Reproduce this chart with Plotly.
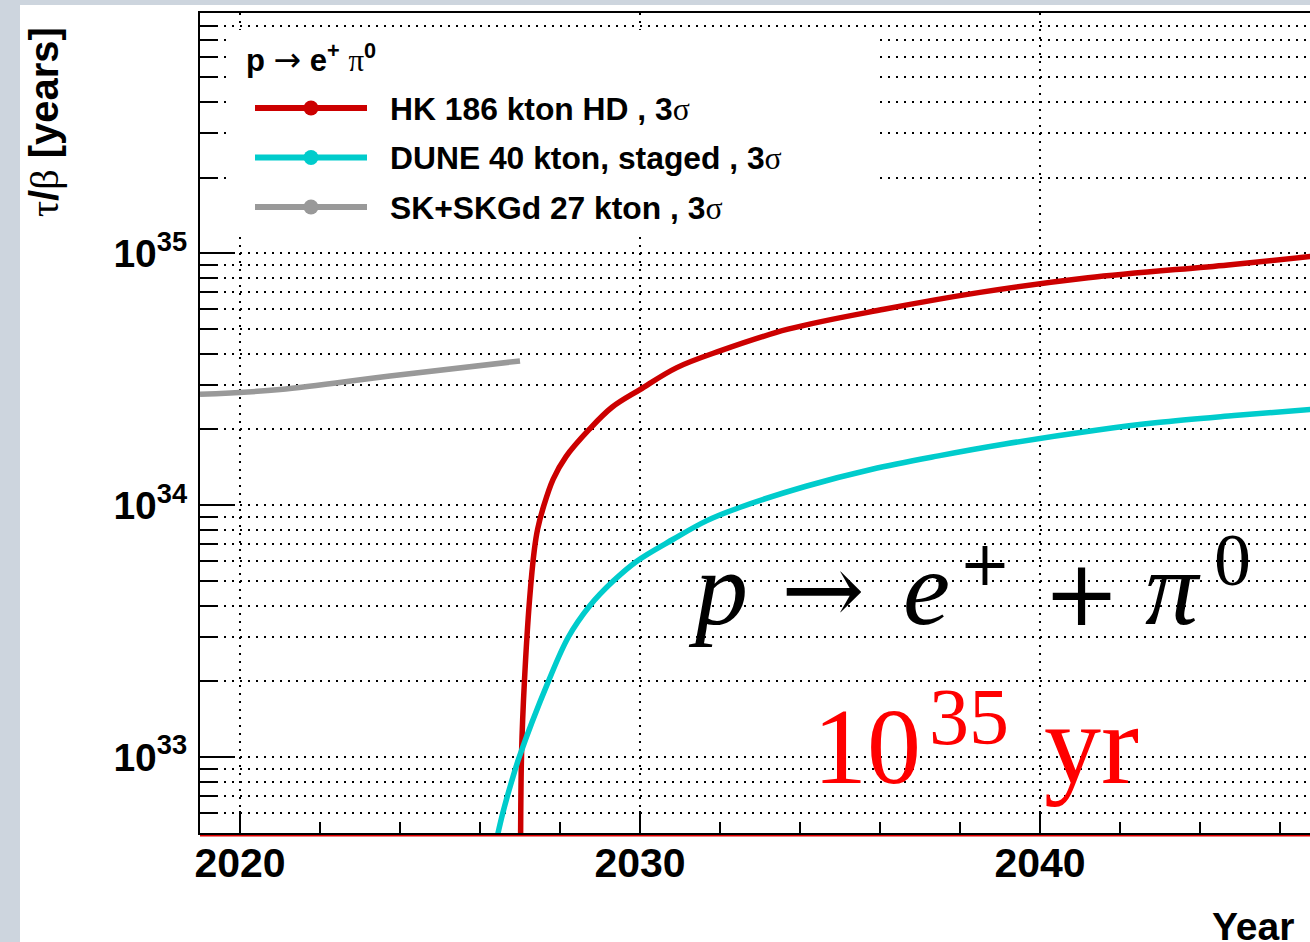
import math
import plotly.graph_objects as go

# ---------------- data ----------------
years_hk = [2027.015, 2027.04, 2027.11, 2027.24, 2027.36, 2027.44, 2027.59, 2027.83,
            2028.15, 2028.73, 2029.3, 2030.0, 2030.92, 2032.0, 2033.7, 2036.1,
            2038.5, 2041.2, 2044.7, 2047.0]
tau_hk = [4.8e32, 1.05e33, 1.99e33, 4.24e33, 6.68e33, 8.03e33, 9.9e33, 1.27e34,
          1.56e34, 2.0e34, 2.45e34, 2.88e34, 3.52e34, 4.1e34, 5.0e34, 6.0e34,
          7.0e34, 8.0e34, 9.0e34, 9.8e34]

years_dune = [2026.4, 2026.57, 2026.79, 2026.98, 2027.71, 2028.21, 2028.75, 2029.33,
              2029.92, 2030.83, 2031.66, 2032.49, 2034.15, 2035.8, 2037.46, 2039.12,
              2041.44, 2042.94, 2044.85, 2047.0]
tau_dune = [4.6e32, 6e32, 8e32, 1e33, 2e33, 3e33, 4e33, 5e33,
            6e33, 7.33e33, 8.67e33, 9.8e33, 1.19e34, 1.39e34, 1.57e34, 1.75e34,
            1.99e34, 2.13e34, 2.27e34, 2.42e34]

years_sk = [2019.0, 2021.0, 2023.75, 2027.0]
tau_sk = [2.76e34, 2.88e34, 3.26e34, 3.74e34]

series_names = ["HK 186 kton HD , 3σ", "DUNE 40 kton, staged , 3σ", "SK+SKGd 27 kton , 3σ"]
series_colors = ["#cc0000", "#00cccc", "#999999"]

x_major = [2020, 2030, 2040]
x_labels = ["2020", "2030", "2040"]
y_major = [1e33, 1e34, 1e35]
y_labels = ["10<sup>33</sup>", "10<sup>34</sup>", "10<sup>35</sup>"]
y_minor = [m * 10.0 ** e for e in (32, 33, 34, 35) for m in range(2, 10)]

x_range = [2019.0, 2046.75]
y_range_vals = [5e32, 9e35]

# ---------------- geometry helpers ----------------
W, H = 1310, 942
ML, MR, MT, MB = 200, 0, 13, 109
PW, PH = W - ML - MR, H - MT - MB


def xp(px):
    return (px - ML) / PW


def yp(py):
    return (H - MB - py) / PH


fig = go.Figure()
for xs, ys, name, col in [(years_hk, tau_hk, series_names[0], series_colors[0]),
                          (years_dune, tau_dune, series_names[1], series_colors[1]),
                          (years_sk, tau_sk, series_names[2], series_colors[2])]:
    fig.add_trace(go.Scatter(x=xs, y=ys, mode="lines", name=name,
                             line=dict(color=col, width=5.5, shape="spline", smoothing=1.0),
                             showlegend=False))

grid_dash = "2px,6px"
fig.update_xaxes(
    range=x_range, showline=True, linecolor="black", linewidth=2, mirror=True,
    ticks="inside", ticklen=22, tickwidth=1.5, tickcolor="black",
    tickmode="array", tickvals=x_major, ticktext=x_labels, ticklabelstandoff=-7,
    tickfont=dict(family="Liberation Sans", size=41, color="black", weight="bold"),
    showgrid=True, gridcolor="black", gridwidth=2, griddash=grid_dash,
    zeroline=False,
    minor=dict(tick0=2020, dtick=2, ticks="inside", ticklen=11, tickwidth=1.5,
               tickcolor="black", showgrid=False),
)
fig.update_yaxes(
    type="log", range=[math.log10(y_range_vals[0]), math.log10(y_range_vals[1])],
    showline=True, linecolor="black", linewidth=2, mirror=False,
    ticks="inside", ticklen=35, tickwidth=1.5, tickcolor="black",
    tickmode="array", tickvals=y_major, ticktext=y_labels, ticklabelstandoff=3,
    tickfont=dict(family="Liberation Sans", size=39, color="black", weight="bold"),
    showgrid=True, gridcolor="black", gridwidth=2, griddash=grid_dash,
    zeroline=False,
    minor=dict(tickmode="array", tickvals=y_minor, ticks="inside", ticklen=18,
               tickwidth=1.5, tickcolor="black", showgrid=True, gridcolor="black",
               gridwidth=2, griddash=grid_dash),
)

bg = "#cdd5de"
shapes = [
    dict(type="rect", xref="paper", yref="paper", x0=xp(0), x1=xp(20), y0=yp(H + 5), y1=yp(-5),
         fillcolor=bg, line=dict(width=0), layer="above"),
    dict(type="rect", xref="paper", yref="paper", x0=xp(0), x1=xp(W + 5), y0=yp(5), y1=yp(-5),
         fillcolor=bg, line=dict(width=0), layer="above"),
    dict(type="line", xref="paper", yref="paper", x0=0, x1=1, y0=yp(835.7), y1=yp(835.7),
         line=dict(color="#e00000", width=1.5), layer="above"),
    dict(type="rect", xref="paper", yref="paper", x0=xp(232), x1=xp(875), y0=yp(232), y1=yp(30),
         fillcolor="white", line=dict(width=0), layer="above"),
]
annotations = []

serif_span = "<span style='font-weight:normal;font-family:Liberation Serif'>{}</span>"
arrow_span = "<span style='font-weight:normal;font-family:DejaVu Sans;font-size:33px'>{}</span>"

leg_rows = [108, 157.5, 207]
for name, col, cy in zip(series_names, series_colors, leg_rows):
    shapes.append(dict(type="line", xref="paper", yref="paper", x0=xp(255), x1=xp(367),
                       y0=yp(cy), y1=yp(cy), line=dict(color=col, width=6), layer="above"))
    shapes.append(dict(type="circle", xref="paper", yref="paper", xsizemode="pixel",
                       ysizemode="pixel", xanchor=xp(311), yanchor=yp(cy),
                       x0=-7.5, x1=7.5, y0=-7.5, y1=7.5, fillcolor=col,
                       line=dict(width=0), layer="above"))
    label = name.replace("σ", serif_span.format("σ"))
    annotations.append(dict(xref="paper", yref="paper", x=xp(388), y=yp(cy + 0.5),
                            xanchor="left", yanchor="middle", showarrow=False, text=label,
                            font=dict(family="Liberation Sans", size=31.8, color="black",
                                      weight="bold")))

annotations.append(dict(xref="paper", yref="paper", x=xp(244), y=yp(58.5),
                        xanchor="left", yanchor="middle", showarrow=False,
                        text="p " + arrow_span.format("→") + " e<sup>+</sup> "
                             + serif_span.format("π") + "<sup>0</sup>",
                        font=dict(family="Liberation Sans", size=31, color="black", weight="bold")))

annotations.append(dict(xref="paper", yref="paper", x=xp(44.5), y=yp(122.5),
                        xanchor="center", yanchor="middle", showarrow=False, textangle=-90,
                        text=serif_span.format("τ") + "/" + serif_span.format("β") + " [years]",
                        font=dict(family="Liberation Sans", size=40, color="black", weight="bold")))
annotations.append(dict(xref="paper", yref="paper", x=xp(1296), y=yp(926.5),
                        xanchor="right", yanchor="middle", showarrow=False, text="Year",
                        font=dict(family="Liberation Sans", size=39, color="black", weight="bold")))

# big formula pieces: (text, family, size, left edge px, baseline px, colour)
DESC = {"Liberation Serif": 0.216, "DejaVu Serif": 0.236}
formula_pieces = [
    ("<i>p</i>", "Liberation Serif", 106, 686, 624, "black"),
    ("→", "DejaVu Serif", 100, 779, 624, "black"),
    ("<i>e</i>", "Liberation Serif", 106, 901, 624, "black"),
    ("+", "DejaVu Serif", 62, 957, 585, "black"),
    ("+", "DejaVu Serif", 92, 1041, 625, "black"),
    ("<i>π</i>", "Liberation Serif", 106, 1143, 624, "black"),
    ("0", "Liberation Serif", 74, 1212, 585, "black"),
    ("10", "Liberation Serif", 108, 811, 783, "#ff0000"),
    ("35", "Liberation Serif", 80, 927, 744, "#ff0000"),
    ("yr", "Liberation Serif", 114, 1042, 783, "#ff0000"),
]
for txt, fam, size, left, base, col in formula_pieces:
    annotations.append(dict(xref="paper", yref="paper", x=xp(left),
                            y=yp(base + DESC[fam] * size + 2),
                            xanchor="left", yanchor="bottom", showarrow=False, text=txt,
                            font=dict(family=fam, size=size, color=col)))

fig.update_layout(
    width=W, height=H, autosize=False,
    margin=dict(l=ML, r=MR, t=MT, b=MB, pad=0),
    paper_bgcolor="white", plot_bgcolor="white",
    shapes=shapes, annotations=annotations, showlegend=False,
)

fig.write_html("out.html", config={"displayModeBar": False},
               post_script="document.body.style.margin='0';document.body.style.overflow='hidden';")
